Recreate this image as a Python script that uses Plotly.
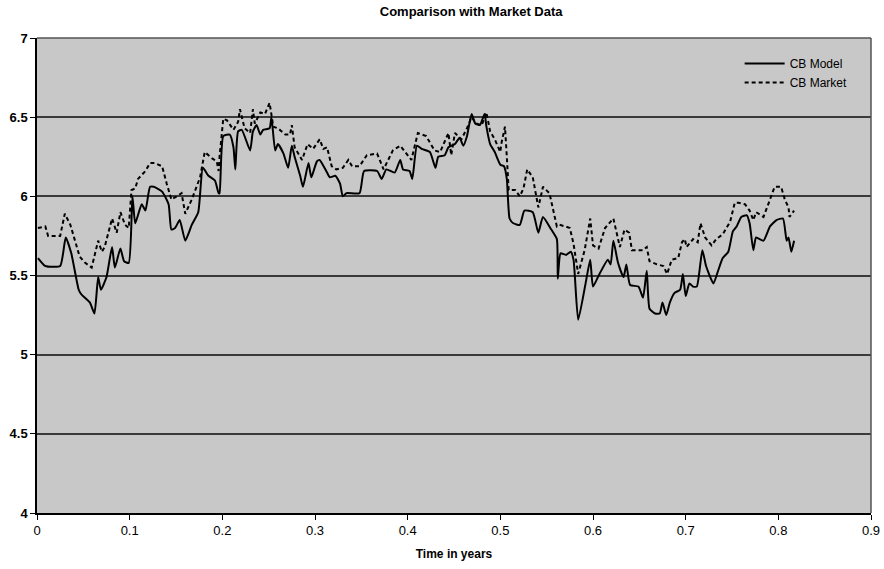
import plotly.graph_objects as go

# Time in years and values
model_t = [0.001, 0.009, 0.025, 0.031, 0.037, 0.045, 0.048, 0.057, 0.062, 0.066, 0.069, 0.075,
           0.081, 0.084, 0.090, 0.094, 0.099, 0.103, 0.106, 0.113, 0.117, 0.122, 0.126, 0.135,
           0.142, 0.145, 0.149, 0.154, 0.160, 0.167, 0.174, 0.179, 0.185, 0.192, 0.196, 0.197,
           0.201, 0.208, 0.212, 0.214, 0.217, 0.221, 0.230, 0.233, 0.237, 0.241, 0.244, 0.251,
           0.253, 0.257, 0.260, 0.266, 0.271, 0.275, 0.278, 0.284, 0.287, 0.293, 0.296, 0.302,
           0.305, 0.313, 0.316, 0.322, 0.327, 0.330, 0.334, 0.348, 0.353, 0.367, 0.372, 0.377,
           0.386, 0.392, 0.395, 0.402, 0.405, 0.410, 0.415, 0.424, 0.430, 0.433, 0.440, 0.444,
           0.451, 0.456, 0.460, 0.464, 0.469, 0.473, 0.478, 0.483, 0.485, 0.489, 0.494, 0.500,
           0.504, 0.507, 0.510, 0.514, 0.521, 0.526, 0.535, 0.541, 0.546, 0.555, 0.561, 0.562,
           0.565, 0.571, 0.576, 0.579, 0.584, 0.592, 0.597, 0.600, 0.607, 0.616, 0.619, 0.622,
           0.627, 0.633, 0.636, 0.640, 0.649, 0.654, 0.658, 0.661, 0.667, 0.672, 0.675, 0.679,
           0.683, 0.688, 0.694, 0.697, 0.700, 0.704, 0.708, 0.712, 0.718, 0.722, 0.730, 0.735,
           0.740, 0.746, 0.751, 0.755, 0.760, 0.766, 0.769, 0.773, 0.776, 0.784, 0.791, 0.798,
           0.805, 0.809, 0.811, 0.814, 0.817]
model_v = [5.61, 5.56, 5.56, 5.74, 5.64, 5.41, 5.38, 5.33, 5.26, 5.49, 5.41, 5.49,
           5.68, 5.55, 5.67, 5.59, 5.58, 6.00, 5.83, 5.95, 5.91, 6.06, 6.06, 6.03,
           5.95, 5.79, 5.80, 5.85, 5.72, 5.82, 5.90, 6.18, 6.13, 6.10, 6.02, 6.02,
           6.38, 6.39, 6.31, 6.17, 6.41, 6.42, 6.29, 6.41, 6.45, 6.39, 6.42, 6.43,
           6.50, 6.29, 6.33, 6.27, 6.18, 6.32, 6.25, 6.13, 6.06, 6.21, 6.12, 6.22,
           6.23, 6.15, 6.12, 6.13, 6.08, 6.00, 6.02, 6.02, 6.16, 6.16, 6.11, 6.17,
           6.15, 6.23, 6.17, 6.16, 6.11, 6.32, 6.30, 6.28, 6.18, 6.25, 6.26, 6.31,
           6.33, 6.37, 6.32, 6.38, 6.52, 6.46, 6.45, 6.52, 6.44, 6.33, 6.28, 6.20,
           6.19, 6.11, 5.86, 5.83, 5.82, 5.91, 5.90, 5.77, 5.87, 5.79, 5.73, 5.48,
           5.64, 5.63, 5.65, 5.60, 5.22, 5.45, 5.60, 5.43, 5.51, 5.60, 5.57, 5.72,
           5.58, 5.49, 5.57, 5.44, 5.43, 5.36, 5.53, 5.29, 5.26, 5.26, 5.33, 5.25,
           5.33, 5.39, 5.41, 5.51, 5.37, 5.45, 5.43, 5.43, 5.66, 5.56, 5.45, 5.53,
           5.61, 5.65, 5.78, 5.81, 5.87, 5.88, 5.83, 5.66, 5.74, 5.72, 5.81, 5.85,
           5.86, 5.72, 5.74, 5.65, 5.72]

market_t = [0.001, 0.009, 0.012, 0.025, 0.030, 0.036, 0.046, 0.052, 0.059, 0.066, 0.070, 0.073,
            0.081, 0.086, 0.090, 0.095, 0.099, 0.102, 0.106, 0.109, 0.117, 0.122, 0.127, 0.135,
            0.140, 0.145, 0.151, 0.156, 0.160, 0.167, 0.176, 0.181, 0.189, 0.194, 0.196, 0.197,
            0.201, 0.205, 0.212, 0.217, 0.219, 0.224, 0.230, 0.233, 0.235, 0.241, 0.246, 0.251,
            0.255, 0.260, 0.268, 0.273, 0.275, 0.278, 0.286, 0.292, 0.298, 0.305, 0.309, 0.313,
            0.318, 0.323, 0.330, 0.336, 0.340, 0.348, 0.356, 0.367, 0.374, 0.379, 0.384, 0.392,
            0.397, 0.404, 0.411, 0.420, 0.429, 0.435, 0.444, 0.447, 0.451, 0.458, 0.464, 0.469,
            0.474, 0.480, 0.485, 0.489, 0.494, 0.500, 0.501, 0.505, 0.507, 0.509, 0.516, 0.521,
            0.525, 0.529, 0.535, 0.541, 0.546, 0.553, 0.561, 0.564, 0.570, 0.575, 0.579, 0.584,
            0.591, 0.597, 0.600, 0.606, 0.613, 0.622, 0.629, 0.634, 0.639, 0.642, 0.654, 0.658,
            0.661, 0.669, 0.676, 0.680, 0.685, 0.692, 0.696, 0.699, 0.701, 0.708, 0.713, 0.716,
            0.721, 0.728, 0.733, 0.740, 0.748, 0.753, 0.757, 0.764, 0.769, 0.773, 0.776, 0.784,
            0.791, 0.796, 0.803, 0.807, 0.811, 0.812, 0.817]
market_v = [5.80, 5.81, 5.75, 5.75, 5.89, 5.82, 5.62, 5.58, 5.55, 5.72, 5.65, 5.68,
            5.86, 5.77, 5.90, 5.82, 5.80, 6.04, 6.05, 6.11, 6.16, 6.21, 6.21, 6.19,
            6.08, 5.98, 6.00, 6.02, 5.89, 5.98, 6.12, 6.28, 6.24, 6.22, 6.16, 6.25,
            6.49, 6.48, 6.42, 6.47, 6.55, 6.43, 6.40, 6.55, 6.46, 6.53, 6.52, 6.59,
            6.44, 6.43, 6.39, 6.39, 6.45, 6.31, 6.23, 6.33, 6.30, 6.36, 6.30, 6.31,
            6.19, 6.17, 6.18, 6.23, 6.19, 6.19, 6.26, 6.27, 6.17, 6.23, 6.29, 6.32,
            6.28, 6.23, 6.40, 6.38, 6.29, 6.28, 6.40, 6.26, 6.40, 6.36, 6.43, 6.50,
            6.46, 6.45, 6.53, 6.41, 6.36, 6.28, 6.33, 6.44, 6.25, 6.04, 6.04, 6.00,
            6.05, 6.17, 6.12, 5.93, 6.06, 6.02, 5.81, 5.82, 5.81, 5.80, 5.70, 5.51,
            5.66, 5.86, 5.69, 5.67, 5.80, 5.86, 5.68, 5.79, 5.77, 5.66, 5.66, 5.68,
            5.59, 5.57, 5.56, 5.51, 5.60, 5.61, 5.71, 5.73, 5.68, 5.73, 5.71, 5.83,
            5.74, 5.69, 5.73, 5.76, 5.84, 5.96, 5.96, 5.95, 5.91, 5.85, 5.90, 5.87,
            5.98, 6.06, 6.06, 5.98, 5.93, 5.87, 5.91]

x_ticks = [0, 0.1, 0.2, 0.3, 0.4, 0.5, 0.6, 0.7, 0.8, 0.9]
x_tick_labels = ["0", "0.1", "0.2", "0.3", "0.4", "0.5", "0.6", "0.7", "0.8", "0.9"]
y_ticks = [4, 4.5, 5, 5.5, 6, 6.5, 7]
y_tick_labels = ["4", "4.5", "5", "5.5", "6", "6.5", "7"]

FONT = "Liberation Sans, Arial, sans-serif"

fig = go.Figure()
fig.add_trace(go.Scatter(x=model_t, y=model_v, mode="lines", name="CB Model",
                         line=dict(color="black", width=2, shape="spline", smoothing=0.5)))
fig.add_trace(go.Scatter(x=market_t, y=market_v, mode="lines", name="CB Market",
                         line=dict(color="black", width=2, dash="4px,3px")))

fig.update_layout(
    width=884, height=569,
    margin=dict(l=37, r=13, t=38, b=56, autoexpand=False),
    paper_bgcolor="white",
    plot_bgcolor="#c8c8c8",
    title=dict(text="<b>Comparison with Market Data</b>", x=0.533, xanchor="center",
               xref="container", yref="container",
               y=0.979, yanchor="middle", font=dict(family=FONT, size=13, color="black")),
    font=dict(family=FONT, color="black"),
    showlegend=True,
    legend=dict(x=0.978, xanchor="right", y=0.977, yanchor="top",
                bgcolor="rgba(0,0,0,0)", font=dict(family=FONT, size=12, color="black"),
                tracegroupgap=0, itemwidth=40),
    xaxis=dict(range=[0, 0.9], tickvals=x_ticks, ticktext=x_tick_labels,
               automargin=False,
               showgrid=False, zeroline=False, showline=True, linecolor="black",
               linewidth=1.5, ticks="outside", ticklen=5, tickcolor="black",
               tickfont=dict(family=FONT, size=13),
               title=dict(text="<b>Time in years</b>", font=dict(family=FONT, size=12), standoff=12)),
    yaxis=dict(range=[4, 7], tickvals=y_ticks, ticktext=y_tick_labels,
               automargin=False,
               showgrid=True, gridcolor="#3a3a3a", gridwidth=1.5, zeroline=False,
               showline=True, linecolor="black", linewidth=1.5, ticks="outside",
               ticklen=5, tickcolor="black",
               tickfont=dict(family=FONT, size=13, weight="bold")),
)
fig.add_shape(type="line", xref="paper", yref="paper", x0=0, x1=1, y0=1, y1=1,
              line=dict(color="#555555", width=1.5))
fig.add_shape(type="line", xref="paper", yref="paper", x0=1, x1=1, y0=0, y1=1,
              line=dict(color="#555555", width=1.5))

# remove the default page margin so the figure fills the window exactly
fig.write_html("out.html",
               config={"displayModeBar": False},
               post_script="document.body.style.margin='0';document.body.style.overflow='hidden';")
